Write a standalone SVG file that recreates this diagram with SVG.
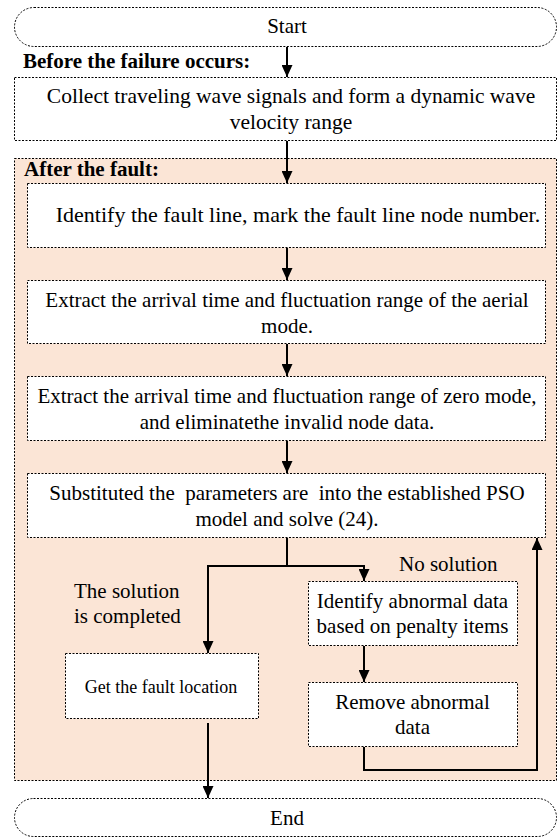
<svg xmlns="http://www.w3.org/2000/svg" width="559" height="838" viewBox="0 0 559 838">
<style>
.box{fill:#fff;stroke:#000;stroke-width:1;stroke-dasharray:2 1.5}
.region{fill:#fbe5d6;stroke:#000;stroke-width:1;stroke-dasharray:2 1.5}
.t{font-family:"Liberation Serif","Times New Roman",serif;font-size:21px;fill:#000;white-space:pre}
.c{text-anchor:middle}
.b{font-weight:bold;font-size:21px}
.s{font-size:18px}
.w{font-size:22px}
.m{font-size:21.5px}
.ln{fill:none;stroke:#000;stroke-width:2}
</style>
<defs>
<marker id="ah" markerWidth="12" markerHeight="11" refX="12" refY="5.5" orient="auto" markerUnits="userSpaceOnUse" viewBox="0 0 12 11">
<path d="M0,0 L12,5.5 L0,11 Z" fill="#000"/>
</marker>
</defs>
<g id="region-after">
<rect class="region" x="14.5" y="158.5" width="542" height="622"/>
<text class="t b" x="24" y="176">After the fault:</text>
</g>
<g id="start">
<rect class="box" x="14.5" y="7.5" width="542" height="39" rx="19.5"/>
<text class="t c" x="287" y="33">Start</text>
</g>
<g id="label-before">
<text class="t b" x="23" y="68">Before the failure occurs:</text>
</g>
<g id="collect">
<rect class="box" x="14.5" y="77.5" width="542" height="63"/>
<text class="t c m" x="291" y="103">Collect traveling wave signals and form a dynamic wave</text>
<text class="t c m" x="291" y="129">velocity range</text>
</g>
<g id="identify">
<rect class="box" x="27.5" y="183.5" width="518" height="64"/>
<text class="t c w" x="298" y="222">Identify the fault line, mark the fault line node number.</text>
</g>
<g id="aerial">
<rect class="box" x="27.5" y="280.5" width="518" height="63"/>
<text class="t c" x="287" y="307">Extract the arrival time and fluctuation range of the aerial</text>
<text class="t c" x="287" y="333">mode.</text>
</g>
<g id="zero">
<rect class="box" x="27.5" y="376.5" width="518" height="64"/>
<text class="t c" x="287" y="403">Extract the arrival time and fluctuation range of zero mode,</text>
<text class="t c" x="287" y="429">and eliminatethe invalid node data.</text>
</g>
<g id="pso">
<rect class="box" x="27.5" y="473.5" width="518" height="64"/>
<text class="t c" x="287" y="500">Substituted the  parameters are  into the established PSO</text>
<text class="t c" x="287" y="526">model and solve (24).</text>
</g>
<g id="get-location">
<rect class="box" x="65.5" y="653.5" width="193" height="65"/>
<text class="t c s" x="161" y="693">Get the fault location</text>
</g>
<g id="identify-abnormal">
<rect class="box" x="308.5" y="581.5" width="209" height="64"/>
<text class="t c" x="412.5" y="608">Identify abnormal data</text>
<text class="t c" x="412.5" y="633">based on penalty items</text>
</g>
<g id="remove-abnormal">
<rect class="box" x="308.5" y="682.5" width="209" height="64"/>
<text class="t c" x="412.5" y="709">Remove abnormal</text>
<text class="t c" x="412.5" y="734">data</text>
</g>
<g id="end">
<rect class="box" x="14.5" y="798.5" width="542" height="38" rx="19"/>
<text class="t c" x="287" y="825">End</text>
</g>
<g id="labels">
<text class="t" x="399" y="571">No solution</text>
<text class="t" x="74" y="598">The solution</text>
<text class="t" x="74" y="623">is completed</text>
</g>
<g id="connectors">
<line class="ln" x1="287" y1="47" x2="287" y2="77" marker-end="url(#ah)"/>
<line class="ln" x1="287" y1="141" x2="287" y2="183" marker-end="url(#ah)"/>
<line class="ln" x1="287" y1="248" x2="287" y2="280" marker-end="url(#ah)"/>
<line class="ln" x1="287" y1="344" x2="287" y2="376" marker-end="url(#ah)"/>
<line class="ln" x1="287" y1="441" x2="287" y2="473" marker-end="url(#ah)"/>
<polyline class="ln" points="287,538 287,566 208,566 208,653" marker-end="url(#ah)"/>
<polyline class="ln" points="287,566 364,566 364,581" marker-end="url(#ah)"/>
<line class="ln" x1="364" y1="646" x2="364" y2="682" marker-end="url(#ah)"/>
<polyline class="ln" points="364,747 364,770 537,770 537,538" marker-end="url(#ah)"/>
<line class="ln" x1="208" y1="723" x2="208" y2="798" marker-end="url(#ah)"/>
</g>
</svg>
